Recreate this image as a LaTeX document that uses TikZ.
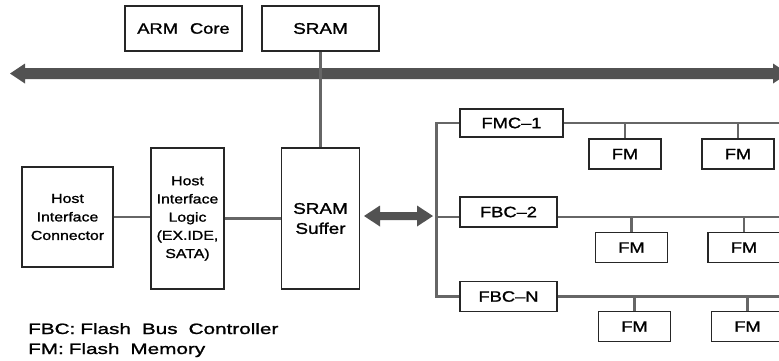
\documentclass[tikz,border=0pt]{standalone}
\usepackage{fontspec}
\setmainfont{Liberation Sans}[FakeStretch=1.22,FakeBold=1.3]
\newfontfamily\legendfont{Liberation Sans}[FakeStretch=1.38,FakeBold=1.3]
\usetikzlibrary{calc}
\begin{document}
\begin{tikzpicture}[x=1pt,y=-1pt,
  box/.style={draw=black!85, line width=1.9pt, fill=white, inner sep=0pt, align=center},
  lbl/.style={font=\fontsize{15}{18}\selectfont},
  small/.style={font=\fontsize{13}{18.5}\selectfont},
  fmbox/.style={box, lbl, minimum width=72pt, minimum height=30pt},
  ctrl/.style={box, lbl, minimum width=97pt, minimum height=30pt},
  wire/.style={draw=black!60, line width=2.9pt},
  fat/.style={fill=black!68, draw=none},
  legend/.style={anchor=base west, inner sep=0pt, font=\legendfont\fontsize{15}{18}\selectfont}]
\useasboundingbox (0,0) rectangle (779,360);
\clip (0,0) rectangle (779,360);

% top boxes
\node[box, lbl, minimum width=117pt, minimum height=45pt] (arm) at (183.5,28.5) {ARM\hspace{12pt}Core};
\node[box, font=\fontsize{15.5}{18}\selectfont, minimum width=117pt, minimum height=45pt] (sram) at (320.5,28.5) {SRAM};

% host side
\node[box, small, minimum width=91pt, minimum height=100pt] (hic) at (67.5,217) {Host\\Interface\\Connector};
\node[box, font=\fontsize{13}{18.2}\selectfont, minimum width=73pt, minimum height=141pt] (hil) at (187.5,218.5) {Host\\Interface\\Logic\\(EX.IDE,\\SATA)};
\node[box, font=\fontsize{15.5}{20}\selectfont, minimum width=78pt, minimum height=141pt] (sramb) at (320.5,218.5) {SRAM\\Suffer};

% system bus
\coordinate (busL) at (10,73.5);
\coordinate (busR) at (788,73.5);
\fill[fat] (busL) -- ++(15,-10) -- ++(0,4.5) -- ++(748,0) -- ++(0,-4.5) -- (busR)
  -- ++(-15,10) -- ++(0,-4.5) -- ++(-748,0) -- ++(0,4.5) -- cycle;

% SRAM to buffer through the bus
\draw[wire] (sram.south) -- (sramb.north);

% host links
\draw[wire] (hic.east) -- (hic.east -| hil.west);
\draw[wire] (hil.east) -- (hil.east -| sramb.west);

% flash controllers
\node[box, lbl, minimum width=103pt, minimum height=28pt] (fmc1) at (511.5,123) {FMC–1};
\node[ctrl] (fbc2) at (508.5,212) {FBC–2};
\node[ctrl] (fbcn) at (508.5,296.5) {FBC–N};

\coordinate (r2) at (437,217);
\coordinate (edge) at (790,0);

% double arrow between buffer and flash bus
\coordinate (dl) at (364,216);
\coordinate (dr) at (433,216);
\fill[fat] (dl) -- ++(16,-10.5) -- ++(0,6.5) -- ++(37,0) -- ++(0,-6.5) -- (dr)
  -- ++(-16,10.5) -- ++(0,-6.5) -- ++(-37,0) -- ++(0,6.5) -- cycle;

% flash bus
\draw[wire, line join=miter] (fmc1.west) -- ++(-23,0) |- (fbcn.west);
\draw[wire] (r2) -- (r2 -| fbc2.west);

% channel lines
\draw[wire] (fmc1.east) -- (fmc1.east -| edge);
\draw[wire] (r2 -| fbc2.east) -- (r2 -| edge);
\draw[wire] (fbcn.east) -- (fbcn.east -| edge);

% flash memories
\node[fmbox] (fm11) at (625,154) {FM};
\node[fmbox] (fm12) at (738,154) {FM};
\node[fmbox] (fm21) at (631.5,247.5) {FM};
\node[fmbox] (fm22) at (744,247.5) {FM};
\node[fmbox] (fm31) at (634.5,326.5) {FM};
\node[fmbox] (fm32) at (747.5,326.5) {FM};

\draw[wire] (fm11.north) -- (fm11.north |- fmc1.east);
\draw[wire] (fm12.north) -- (fm12.north |- fmc1.east);
\draw[wire] (fm21.north) -- (fm21.north |- r2);
\draw[wire] (fm22.north) -- (fm22.north |- r2);
\draw[wire] (fm31.north) -- (fm31.north |- fbcn.east);
\draw[wire] (fm32.north) -- (fm32.north |- fbcn.east);

% legend
\node[legend] (leg1) at (28,334) {FBC:\hspace{5pt}Flash\hspace{11pt}Bus\hspace{11pt}Controller};
\node[legend] (leg2) at (28,354) {FM:\hspace{5pt}Flash\hspace{11pt}Memory};
\end{tikzpicture}
\end{document}
